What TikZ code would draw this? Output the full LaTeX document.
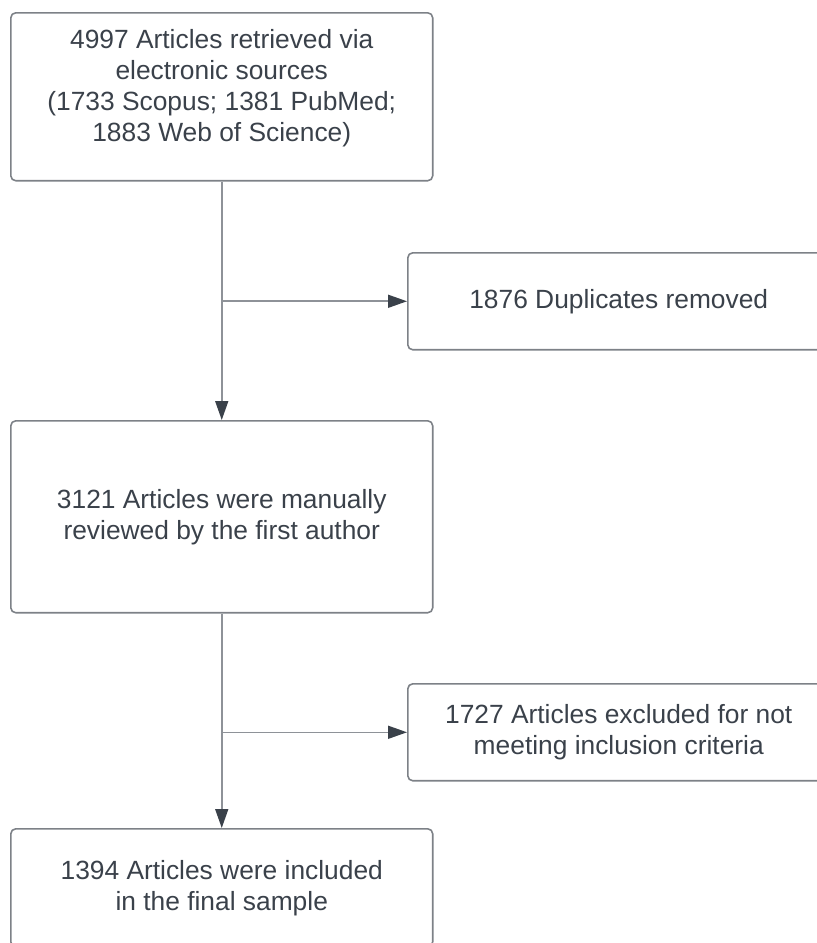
\documentclass[tikz,border=0pt]{standalone}
\usepackage{fontspec}
\setmainfont{Liberation Sans}
\usetikzlibrary{arrows.meta}
\definecolor{txtcol}{HTML}{3A414A}
\definecolor{boxcol}{HTML}{7D8187}
\definecolor{linecol}{HTML}{8E9298}

\begin{document}
\begin{tikzpicture}[x=0.02cm,y=-0.02cm,
    box/.style={draw=boxcol,line width=0.9pt,rounded corners=0.1cm,anchor=north west,
      align=center,text=txtcol,inner sep=2pt,minimum width=8.44cm,
      font=\fontsize{15}{17.6}\selectfont},
    flow/.style={draw=linecol,line width=0.9pt,-{Triangle[length=0.38cm,width=0.26cm,color=txtcol]}}]
      \useasboundingbox (0,0) rectangle (817,943);
      \clip (0,0) rectangle (817,943);

      \node[box,minimum height=3.36cm] (src) at (10,12){4997 Articles retrieved via\\ electronic sources\\ (1733 Scopus; 1381 PubMed;\\ 1883 Web of Science)\\[-0.16cm]};
      \node[box,minimum height=1.94cm] (dup) at (407,252){1876 Duplicates removed};
      \node[box,minimum height=3.84cm] (review) at (10,420){3121 Articles were manually\\ reviewed by the first author};
      \node[box,minimum height=1.94cm] (excl) at (407,683){1727 Articles excluded for not\\ meeting inclusion criteria};
      \node[box,minimum height=2.36cm] (incl) at (10,828){1394 Articles were included\\ in the final sample};

      \coordinate (fork1) at (src.south |- dup.west);
      \coordinate (fork2) at (review.south |- excl.west);

      \draw[flow] (src) -- (review);
      \draw[flow] (fork1) -- (dup.west);
      \draw[flow] (review) -- (incl);
      \draw[flow] (fork2) -- (excl.west);
    \end{tikzpicture}
\end{document}
